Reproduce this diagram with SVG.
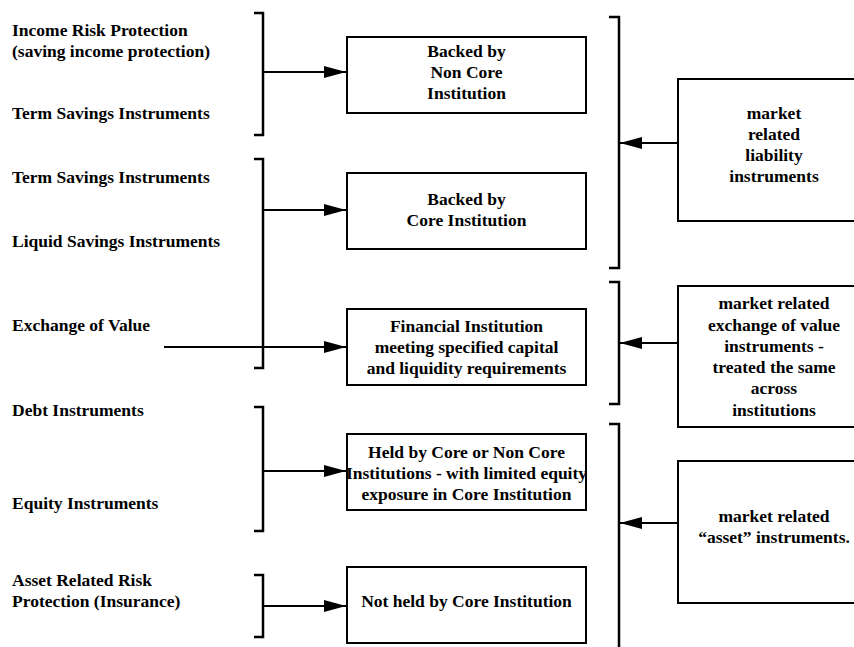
<svg xmlns="http://www.w3.org/2000/svg" width="854" height="647" viewBox="0 0 854 647">
  <style>
    .t { font-family: Liberation Serif, serif; font-weight: bold; font-size: 17.5px; fill: #000; }
    .c { text-anchor: middle; }
    .box { fill: #fff; stroke: #000; stroke-width: 2; }
    .br { fill: none; stroke: #000; stroke-width: 2.5; }
    .ar { fill: none; stroke: #000; stroke-width: 2; }
  </style>
  <defs>
    <marker id="head" viewBox="0 0 22 12" refX="22" refY="6" markerWidth="22" markerHeight="12" markerUnits="userSpaceOnUse" orient="auto">
      <path d="M0,0 L22,6 L0,12 Z" fill="#000"/>
    </marker>
  </defs>
  <rect width="854" height="647" fill="#fff"/>

  <!-- left-hand category labels -->
  <g id="labels" class="t" font-family="Liberation Serif">
    <text x="12" y="36">Income Risk Protection</text>
    <text x="12" y="57">(saving income protection)</text>
    <text x="12" y="119">Term Savings Instruments</text>
    <text x="12" y="183">Term Savings Instruments</text>
    <text x="12" y="247">Liquid Savings Instruments</text>
    <text x="12" y="331">Exchange of Value</text>
    <text x="12" y="416">Debt Instruments</text>
    <text x="12" y="509">Equity Instruments</text>
    <text x="12" y="586">Asset Related Risk</text>
    <text x="12" y="607">Protection (Insurance)</text>
  </g>

  <!-- brackets and arrows -->
  <g id="connectors">
    <path class="br" d="M254,13 H263 V135 H254"/>
    <path class="br" d="M254,159 H263 V368 H254"/>
    <path class="br" d="M254,407 H263 V531 H254"/>
    <path class="br" d="M254,575 H263 V637 H254"/>
    <line class="ar" x1="263" y1="72" x2="346" y2="72" marker-end="url(#head)"/>
    <line class="ar" x1="263" y1="210" x2="346" y2="210" marker-end="url(#head)"/>
    <line class="ar" x1="164" y1="347" x2="346" y2="347" marker-end="url(#head)"/>
    <line class="ar" x1="263" y1="471" x2="346" y2="471" marker-end="url(#head)"/>
    <line class="ar" x1="263" y1="606" x2="346" y2="606" marker-end="url(#head)"/>

    <path class="br" d="M609,17 H619 V268 H609"/>
    <path class="br" d="M609,282 H619 V404 H609"/>
    <path class="br" d="M609,424 H619 V650"/>
    <line class="ar" x1="678" y1="143" x2="620" y2="143" marker-end="url(#head)"/>
    <line class="ar" x1="678" y1="343" x2="620" y2="343" marker-end="url(#head)"/>
    <line class="ar" x1="678" y1="523" x2="620" y2="523" marker-end="url(#head)"/>
  </g>

  <!-- institution boxes -->
  <g id="non-core" class="t" font-family="Liberation Serif">
    <rect class="box" x="347" y="37" width="239" height="76"/>
    <text class="c" x="466.5" y="57">Backed by</text>
    <text class="c" x="466.5" y="78">Non Core</text>
    <text class="c" x="466.5" y="99">Institution</text>
  </g>
  <g id="core" class="t" font-family="Liberation Serif">
    <rect class="box" x="347" y="173" width="239" height="76"/>
    <text class="c" x="466.5" y="205">Backed by</text>
    <text class="c" x="466.5" y="226">Core Institution</text>
  </g>
  <g id="financial-institution" class="t" font-family="Liberation Serif">
    <rect class="box" x="347" y="309" width="239" height="76"/>
    <text class="c" x="466.5" y="332">Financial Institution</text>
    <text class="c" x="466.5" y="353">meeting specified capital</text>
    <text class="c" x="466.5" y="374">and liquidity requirements</text>
  </g>
  <g id="held-by" class="t" font-family="Liberation Serif">
    <rect class="box" x="347" y="434" width="239" height="76"/>
    <text class="c" x="466.5" y="458">Held by Core or Non Core</text>
    <text class="c" x="466.5" y="479">Institutions - with limited equity</text>
    <text class="c" x="466.5" y="500">exposure in Core Institution</text>
  </g>
  <g id="not-held" class="t" font-family="Liberation Serif">
    <rect class="box" x="347" y="567" width="239" height="76"/>
    <text class="c" x="466.5" y="607">Not held by Core Institution</text>
  </g>

  <!-- market instrument boxes (run off the right edge) -->
  <g id="liability-instruments" class="t" font-family="Liberation Serif">
    <rect class="box" x="678" y="79" width="190" height="142"/>
    <text class="c" x="774" y="119">market</text>
    <text class="c" x="774" y="140">related</text>
    <text class="c" x="774" y="161">liability</text>
    <text class="c" x="774" y="182">instruments</text>
  </g>
  <g id="exchange-instruments" class="t" font-family="Liberation Serif">
    <rect class="box" x="678" y="286" width="190" height="141"/>
    <text class="c" x="774" y="309">market related</text>
    <text class="c" x="774" y="331">exchange of value</text>
    <text class="c" x="774" y="352">instruments -</text>
    <text class="c" x="774" y="373">treated the same</text>
    <text class="c" x="774" y="394">across</text>
    <text class="c" x="774" y="416">institutions</text>
  </g>
  <g id="asset-instruments" class="t" font-family="Liberation Serif">
    <rect class="box" x="678" y="461" width="190" height="142"/>
    <text class="c" x="774" y="522">market related</text>
    <text class="c" x="774" y="543">“asset” instruments.</text>
  </g>
</svg>
